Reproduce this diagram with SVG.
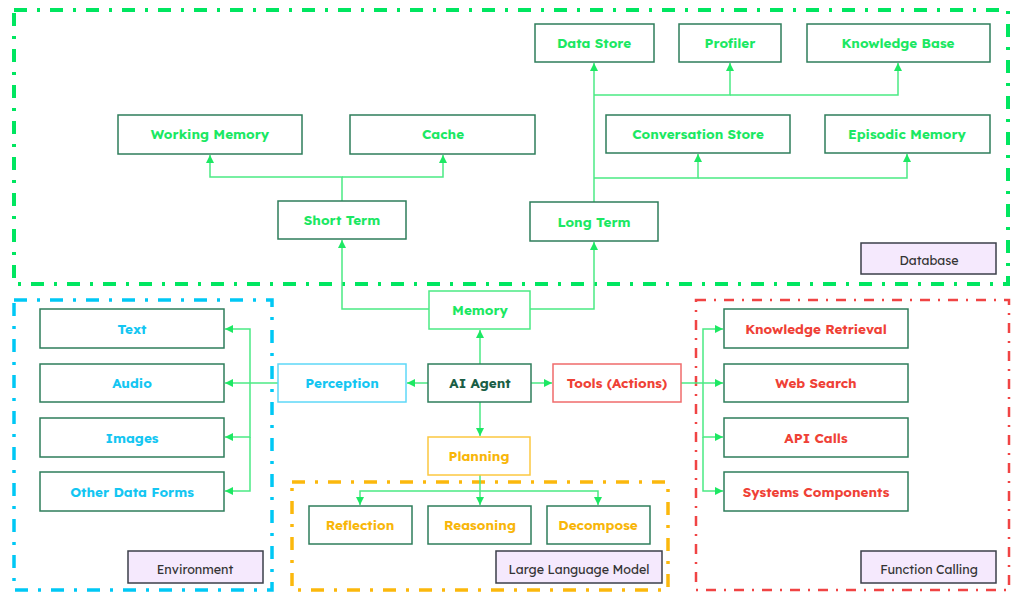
<svg xmlns="http://www.w3.org/2000/svg" width="1024" height="601" viewBox="0 0 1024 601">
<defs>
<style>
.grp{fill:none;stroke-linecap:butt}
.gdb{stroke:#00e660;stroke-width:4;stroke-dasharray:13 10 3 10}
.genv{stroke:#00c8f5;stroke-width:3.5;stroke-dasharray:13 10 3 10}
.gllm{stroke:#fbb80c;stroke-width:3.5;stroke-dasharray:13 10 3 10}
.gfn{stroke:#f04444;stroke-width:2.5;stroke-dasharray:10 8 2 8}
.box{fill:#ffffff;stroke:#2e7d5b;stroke-width:1.5}
.lbl{fill:#f5e9fd;stroke:#3b3f4a;stroke-width:1.5}
text{font-family:"Lexend","Inter","Noto Sans",sans-serif;font-weight:700;font-size:13.5px;text-anchor:middle;dominant-baseline:central}
.tg{fill:#1be863}
.tc{fill:#14c6f2}
.ty{fill:#f8b60a}
.tr{fill:#ef4136}
.td{fill:#1a5e45}
.tl{fill:#333333;font-weight:400;font-size:12.5px}
.con{fill:none;stroke:#4bea84;stroke-width:1.5}
</style>
<marker id="ah" viewBox="0 0 10 10" refX="10" refY="5" markerWidth="8" markerHeight="8" markerUnits="userSpaceOnUse" orient="auto">
<path d="M0,0 L10,5 L0,10 z" fill="#1de863"/>
</marker>
</defs>
<rect width="1024" height="601" fill="#ffffff"/>

<g id="groups">
<rect id="g-database" class="grp gdb" x="14" y="10" width="994" height="274"/>
<rect id="g-environment" class="grp genv" x="14" y="300" width="258" height="290"/>
<rect id="g-llm" class="grp gllm" x="292" y="482" width="376" height="108"/>
<rect id="g-function" class="grp gfn" x="696" y="300" width="313" height="290"/>
</g>

<g id="connectors">
<path class="con" d="M342,201 V177 H210 V155" marker-end="url(#ah)"/>
<path class="con" d="M342,177 H443 V155" marker-end="url(#ah)"/>
<path class="con" d="M594,202 V63" marker-end="url(#ah)"/>
<path class="con" d="M594,95 H730 V63" marker-end="url(#ah)"/>
<path class="con" d="M730,95 H898 V63" marker-end="url(#ah)"/>
<path class="con" d="M594,178 H698 V154" marker-end="url(#ah)"/>
<path class="con" d="M698,178 H907 V154" marker-end="url(#ah)"/>
<path class="con" d="M429,309 H342 V240" marker-end="url(#ah)"/>
<path class="con" d="M530,309 H594 V242" marker-end="url(#ah)"/>
<path class="con" d="M480,364 V330" marker-end="url(#ah)"/>
<path class="con" d="M428,383 H407" marker-end="url(#ah)"/>
<path class="con" d="M531,383 H552" marker-end="url(#ah)"/>
<path class="con" d="M480,402 V436" marker-end="url(#ah)"/>
<path class="con" d="M278,383 H225" marker-end="url(#ah)"/>
<path class="con" d="M250,383 V329 H225" marker-end="url(#ah)"/>
<path class="con" d="M250,383 V437 H225" marker-end="url(#ah)"/>
<path class="con" d="M250,437 V491 H225" marker-end="url(#ah)"/>
<path class="con" d="M681,383 H723" marker-end="url(#ah)"/>
<path class="con" d="M703,383 V329 H723" marker-end="url(#ah)"/>
<path class="con" d="M703,383 V437 H723" marker-end="url(#ah)"/>
<path class="con" d="M703,437 V491 H723" marker-end="url(#ah)"/>
<path class="con" d="M480,475 V505" marker-end="url(#ah)"/>
<path class="con" d="M480,491 H360 V505" marker-end="url(#ah)"/>
<path class="con" d="M480,491 H598 V505" marker-end="url(#ah)"/>
</g>

<g id="n-working-memory"><rect class="box" x="118" y="115" width="184" height="39"/><text class="tg" x="210" y="133.5">Working Memory</text></g>
<g id="n-cache"><rect class="box" x="350" y="115" width="185" height="39"/><text class="tg" x="443" y="133.5">Cache</text></g>
<g id="n-short-term"><rect class="box" x="278" y="201" width="128" height="38"/><text class="tg" x="342" y="219">Short Term</text></g>
<g id="n-data-store"><rect class="box" x="535" y="24" width="119" height="38"/><text class="tg" x="594" y="42">Data Store</text></g>
<g id="n-profiler"><rect class="box" x="679" y="24" width="102" height="38"/><text class="tg" x="730" y="42">Profiler</text></g>
<g id="n-knowledge-base"><rect class="box" x="807" y="24" width="183" height="38"/><text class="tg" x="898" y="42">Knowledge Base</text></g>
<g id="n-conversation-store"><rect class="box" x="606" y="115" width="184" height="38"/><text class="tg" x="698" y="133">Conversation Store</text></g>
<g id="n-episodic-memory"><rect class="box" x="825" y="115" width="165" height="38"/><text class="tg" x="907" y="133">Episodic Memory</text></g>
<g id="n-long-term"><rect class="box" x="530" y="202" width="128" height="39"/><text class="tg" x="594" y="221">Long Term</text></g>
<g id="l-database"><rect class="lbl" x="861" y="243" width="135" height="31"/><text class="tl" x="929" y="260">Database</text></g>

<g id="n-memory"><rect x="429" y="291" width="101" height="38" fill="#fff" stroke="#4bea84" stroke-width="1.5"/><text class="tg" x="480" y="309">Memory</text></g>
<g id="n-ai-agent"><rect class="box" x="428" y="364" width="103" height="38"/><text class="td" x="480" y="382">AI Agent</text></g>
<g id="n-perception"><rect x="278" y="364" width="128" height="38" fill="#fff" stroke="#5ed8f8" stroke-width="1.5"/><text class="tc" x="342" y="382">Perception</text></g>
<g id="n-tools"><rect x="553" y="364" width="128" height="38" fill="#fff" stroke="#f06b6b" stroke-width="1.5"/><text class="tr" x="617" y="382">Tools (Actions)</text></g>
<g id="n-planning"><rect x="428" y="437" width="102" height="38" fill="#fff" stroke="#fcc840" stroke-width="1.5"/><text class="ty" x="479" y="455.5">Planning</text></g>

<g id="n-text"><rect class="box" x="40" y="309" width="184" height="39"/><text class="tc" x="132" y="328">Text</text></g>
<g id="n-audio"><rect class="box" x="40" y="364" width="184" height="38"/><text class="tc" x="132" y="382">Audio</text></g>
<g id="n-images"><rect class="box" x="40" y="418" width="184" height="39"/><text class="tc" x="132" y="437">Images</text></g>
<g id="n-other-data"><rect class="box" x="40" y="472" width="184" height="39"/><text class="tc" x="132" y="491">Other Data Forms</text></g>
<g id="l-environment"><rect class="lbl" x="128" y="551" width="135" height="32"/><text class="tl" x="195" y="568.5">Environment</text></g>

<g id="n-reflection"><rect class="box" x="309" y="506" width="103" height="38"/><text class="ty" x="360" y="524.5">Reflection</text></g>
<g id="n-reasoning"><rect class="box" x="428" y="506" width="103" height="38"/><text class="ty" x="480" y="524.5">Reasoning</text></g>
<g id="n-decompose"><rect class="box" x="547" y="506" width="103" height="38"/><text class="ty" x="598" y="524.5">Decompose</text></g>
<g id="l-llm"><rect class="lbl" x="496" y="551" width="166" height="32"/><text class="tl" x="579" y="568.5">Large Language Model</text></g>

<g id="n-knowledge-retrieval"><rect class="box" x="724" y="309" width="184" height="39"/><text class="tr" x="816" y="328">Knowledge Retrieval</text></g>
<g id="n-web-search"><rect class="box" x="724" y="364" width="184" height="38"/><text class="tr" x="816" y="382">Web Search</text></g>
<g id="n-api-calls"><rect class="box" x="724" y="418" width="184" height="39"/><text class="tr" x="816" y="437">API Calls</text></g>
<g id="n-systems-components"><rect class="box" x="724" y="472" width="184" height="39"/><text class="tr" x="816" y="491">Systems Components</text></g>
<g id="l-function"><rect class="lbl" x="861" y="551" width="135" height="32"/><text class="tl" x="929" y="568.5">Function Calling</text></g>
</svg>
